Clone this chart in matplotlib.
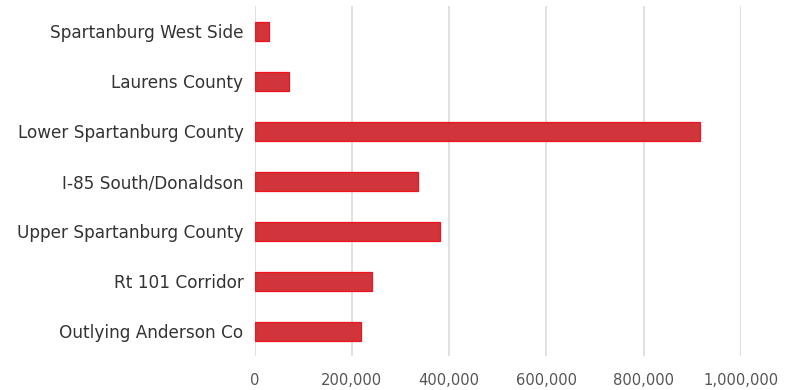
import matplotlib
matplotlib.use('Agg')
import matplotlib.pyplot as plt
from matplotlib.ticker import FuncFormatter

# data (top to bottom)
areas = ['Spartanburg West Side', 'Laurens County', 'Lower Spartanburg County',
         'I-85 South/Donaldson', 'Upper Spartanburg County', 'Rt 101 Corridor',
         'Outlying Anderson Co']
values = [30000, 70500, 916000, 335500, 382000, 241500, 219000]
x_ticks = [0, 200000, 400000, 600000, 800000, 1000000]

fig = plt.figure(figsize=(7.85, 3.9), dpi=100)
ax = fig.add_axes([254.5 / 785, 34 / 390, (741 - 254.5) / 785, 350 / 390])

pos = list(range(len(areas)))
ax.barh(pos, values, height=0.38, color='#d1343a', edgecolor='#f0141e',
        linewidth=0.9, zorder=3)

ax.set_ylim(len(areas) - 0.5, -0.5)
ax.set_xlim(0, 1000000)
ax.set_yticks(pos)
ax.set_yticklabels(areas)
ax.set_xticks(x_ticks)
ax.xaxis.set_major_formatter(FuncFormatter(lambda v, p: f'{int(v):,}'))

for s in ax.spines.values():
    s.set_visible(False)
ax.grid(axis='x', color='#dcdcdc', linewidth=1.2, zorder=0)
ax.tick_params(axis='y', length=0, pad=8, labelsize=12.2, labelcolor='#333333')
ax.tick_params(axis='x', length=0, pad=12, labelsize=10.6, labelcolor='#555555')

fig.savefig('out.png', dpi=100)
